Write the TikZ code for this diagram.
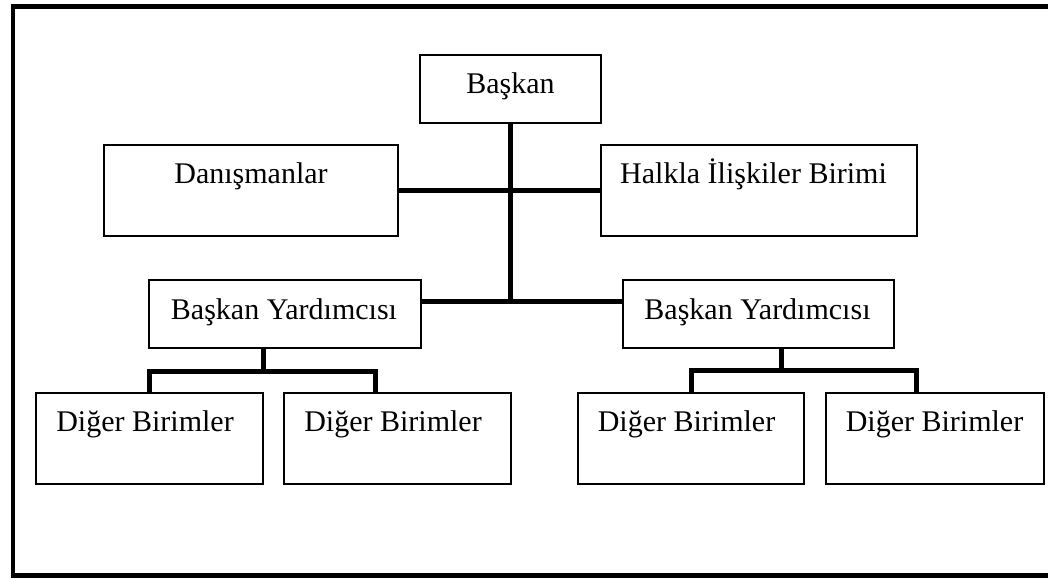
\documentclass[tikz,border=0pt]{standalone}
\usepackage{fontspec}
\setmainfont{Liberation Serif}
\usetikzlibrary{calc}
\tikzset{
  box/.style={draw, line width=1.4pt, inner sep=0pt, outer sep=0pt, fill=white},
  conn/.style={line width=5pt, line join=miter},
  frame/.style={line width=4.5pt, line join=miter},
  lbl/.style={anchor=base, inner sep=0pt, font=\fontsize{30}{36}\selectfont}
}
% draw a box from its corner coordinates: name, x1, y1, x2, y2
\newcommand{\orgbox}[5]{%
  \node[box, minimum width={(#4-#2)*1pt}, minimum height={(#5-#3)*1pt}]
    (#1) at ({(#2+#4)/2},{(#3+#5)/2}) {};}
\begin{document}
\begin{tikzpicture}[x=1pt, y=-1pt]
\useasboundingbox (0,0) rectangle (1048,578);

% outer frame (its right side runs off the page)
\draw[frame] (1060,6.5) -- (13,6.5) -- (13,575.5) -- (1060,575.5);

% boxes
\orgbox{bsk}{420}{55}{601}{123}
\orgbox{dan}{104}{145}{398}{236}
\orgbox{hal}{601}{145}{917}{236}
\orgbox{byl}{149}{280}{421}{348}
\orgbox{byr}{623}{280}{894}{348}
\orgbox{da}{36}{393}{263}{484}
\orgbox{db}{284}{393}{511}{484}
\orgbox{dc}{578}{393}{804}{484}
\orgbox{dd}{826}{393}{1044}{484}

% texts
\node[lbl] (tbsk) at (510.5,93) {Başkan};
\node[lbl] (tdan) at (251,183.5) {Danışmanlar};
\node[lbl] (thal) at (753.5,183) {Halkla İlişkiler Birimi};
\node[lbl] (tbyl) at (284,319) {Başkan Yardımcısı};
\node[lbl] (tbyr) at (757.5,319) {Başkan Yardımcısı};
\node[lbl] (tda) at (145,431) {Diğer Birimler};
\node[lbl] (tdb) at (393,431) {Diğer Birimler};
\node[lbl] (tdc) at (686.5,431) {Diğer Birimler};
\node[lbl] (tdd) at (934.5,431) {Diğer Birimler};

% attachment points
\coordinate (bylE) at ($(byl.north east)!0.32!(byl.south east)$);
\coordinate (byrW) at ($(byr.north west)!0.32!(byr.south west)$);
\coordinate (bylS) at ($(byl.south west)!0.42!(byl.south east)$);
\coordinate (byrS) at ($(byr.south west)!0.583!(byr.south east)$);
\coordinate (dbN) at ($(db.north west)!0.405!(db.north east)$);
\coordinate (ddN) at ($(dd.north west)!0.417!(dd.north east)$);

% main trunk and side branches
\draw[conn] (bsk.south) -- (bsk.south |- bylE);
\draw[conn] (dan.east) -- (hal.west);
\draw[conn] (bylE) -- (byrW);

% sub-units of the left deputy
\draw[conn] (da.north) -- ++(0,-22) -| (dbN);
\draw[conn] (bylS) -- ($(bylS)+(0,23)$);

% sub-units of the right deputy
\draw[conn] (dc.north) -- ++(0,-23) -| (ddN);
\draw[conn] (byrS) -- ($(byrS)+(0,22)$);
\end{tikzpicture}
\end{document}
